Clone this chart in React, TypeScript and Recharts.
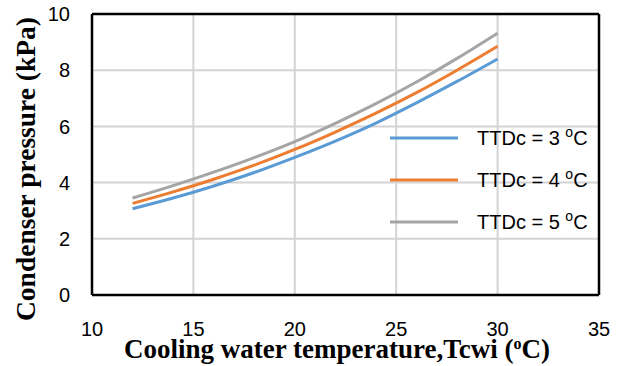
import {
  LineChart,
  Line,
  XAxis,
  YAxis,
  CartesianGrid,
  ReferenceLine,
} from "recharts";

// cooling water inlet temperature (°C)
const temps = [12, 14, 16, 18, 20, 22, 24, 26, 28, 30];

// condenser pressure (kPa) per TTDc
const ttd3 = [3.07, 3.45, 3.88, 4.36, 4.9, 5.48, 6.12, 6.84, 7.6, 8.4];
const ttd4 = [3.26, 3.67, 4.12, 4.62, 5.18, 5.8, 6.47, 7.2, 8.0, 8.85];
const ttd5 = [3.45, 3.89, 4.37, 4.89, 5.46, 6.11, 6.81, 7.58, 8.42, 9.32];

const xTicks = [10, 15, 20, 25, 30, 35];
const yTicks = [0, 2, 4, 6, 8, 10];

const series = [
  { key: "ttd3", label: "3", color: "#5B9BD5" },
  { key: "ttd4", label: "4", color: "#ED7D31" },
  { key: "ttd5", label: "5", color: "#A5A5A5" },
];

const data = temps.map((t, i) => ({
  t,
  ttd3: ttd3[i],
  ttd4: ttd4[i],
  ttd5: ttd5[i],
}));

const sans = "'Liberation Sans', Arial, sans-serif";
const serif = "'Liberation Serif', 'Times New Roman', serif";

const tickStyle = { fontFamily: sans, fontSize: 20, fill: "#000" };
const frame = { stroke: "#000", strokeWidth: 2.5 };

function LegendBox() {
  return (
    <div style={{ position: "absolute", left: 390, top: 117 }}>
      {series.map((s) => (
        <div
          key={s.key}
          style={{
            display: "flex",
            alignItems: "center",
            height: 42,
            fontFamily: sans,
            fontSize: 20,
            color: "#000",
          }}
        >
          <svg width={68} height={6} style={{ marginRight: 19 }}>
            <line x1={0} y1={3} x2={68} y2={3} stroke={s.color} strokeWidth={3} />
          </svg>
          <span style={{ whiteSpace: "nowrap" }}>
            TTDc = {s.label}{" "}
            <span style={{ fontSize: 14, position: "relative", top: -8 }}>o</span>
            C
          </span>
        </div>
      ))}
    </div>
  );
}

export default function App() {
  return (
    <div style={{ position: "absolute", left: 0, top: 0, width: 622, height: 366 }}>
      <LineChart
        width={622}
        height={366}
        data={data}
        margin={{ top: 14, right: 23, bottom: 0, left: 0 }}
      >
        <CartesianGrid stroke="#d4d4d4" strokeWidth={2} />
        <XAxis
          dataKey="t"
          type="number"
          domain={[10, 35]}
          ticks={xTicks}
          height={71}
          axisLine={frame}
          tickLine={false}
          tickMargin={21}
          tick={tickStyle}
        />
        <YAxis
          type="number"
          domain={[0, 10]}
          ticks={yTicks}
          width={92}
          axisLine={frame}
          tickLine={false}
          tickMargin={16}
          tick={tickStyle}
        />
        <ReferenceLine x={35} stroke="#000" strokeWidth={2.5} />
        <ReferenceLine y={10} stroke="#000" strokeWidth={2.5} />
        {series.map((s) => (
          <Line
            key={s.key}
            type="monotone"
            dataKey={s.key}
            stroke={s.color}
            strokeWidth={3}
            dot={false}
            isAnimationActive={false}
          />
        ))}
      </LineChart>

      <LegendBox />

      <div
        style={{
          position: "absolute",
          left: 26,
          top: 169,
          transform: "translate(-50%, -50%) rotate(-90deg)",
          whiteSpace: "nowrap",
          lineHeight: "26px",
          fontFamily: serif,
          fontWeight: "bold",
          fontSize: 27.5,
          color: "#000",
        }}
      >
        Condenser pressure (kPa)
      </div>
      <div
        style={{
          position: "absolute",
          left: 337,
          top: 351,
          transform: "translate(-50%, -50%)",
          whiteSpace: "nowrap",
          lineHeight: "22px",
          fontFamily: serif,
          fontWeight: "bold",
          fontSize: 27,
          color: "#000",
        }}
      >
        Cooling water temperature,Tcwi (
        <span style={{ fontSize: 16, position: "relative", top: -9 }}>o</span>
        C)
      </div>
    </div>
  );
}
